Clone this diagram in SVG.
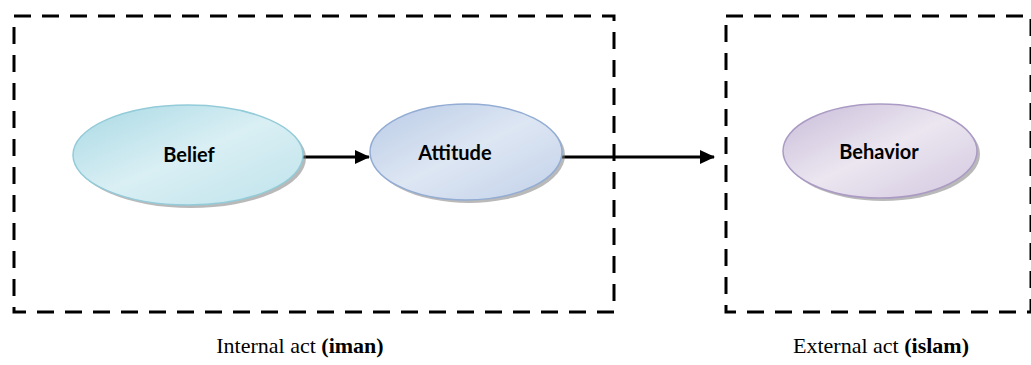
<svg xmlns="http://www.w3.org/2000/svg" width="1031" height="365" viewBox="0 0 1031 365">
<style>
.box{fill:none;stroke:#000;stroke-width:3;stroke-dasharray:17 11}
.lbl{font-family:Lato,"Open Sans","Liberation Sans",sans-serif;font-weight:bold;font-size:20px;fill:#000;text-anchor:middle}
.cap{font-family:"Liberation Serif","Times New Roman",serif;font-size:22px;fill:#000;text-anchor:middle}
.shadow{fill:#7f7f7f;opacity:0.55}
.conn{stroke:#000;stroke-width:3;fill:none}
</style>
<defs>
<linearGradient id="gB" x1="0" y1="0" x2="1" y2="1">
<stop offset="0" stop-color="#a9d9e4"/><stop offset="0.5" stop-color="#d9eff4"/><stop offset="1" stop-color="#bfe3eb"/>
</linearGradient>
<linearGradient id="gA" x1="0" y1="0" x2="1" y2="1">
<stop offset="0" stop-color="#b9cbe6"/><stop offset="0.5" stop-color="#dde6f3"/><stop offset="1" stop-color="#c2d1e9"/>
</linearGradient>
<linearGradient id="gC" x1="0" y1="0" x2="1" y2="1">
<stop offset="0" stop-color="#c9bcd9"/><stop offset="0.5" stop-color="#ebe6f0"/><stop offset="1" stop-color="#d3c8e0"/>
</linearGradient>
<marker id="ah" markerWidth="15" markerHeight="14" refX="14" refY="7" orient="auto" markerUnits="userSpaceOnUse" viewBox="0 0 15 14">
<path d="M0,0 L15,7 L0,14 z" fill="#000"/>
</marker>
</defs>
<g id="internal-box">
<rect class="box" x="14" y="16" width="600" height="296"/>
<text class="cap" x="300" y="353">Internal act <tspan font-weight="bold">(iman)</tspan></text>
</g>
<g id="external-box">
<rect class="box" x="726" y="16" width="305" height="296"/>
<text class="cap" x="881" y="353">External act <tspan font-weight="bold">(islam)</tspan></text>
</g>
<g id="connectors">
<line class="conn" x1="303" y1="157" x2="369" y2="157" marker-end="url(#ah)"/>
<line class="conn" x1="562" y1="157" x2="714" y2="157" marker-end="url(#ah)"/>
</g>
<g id="belief">
<ellipse class="shadow" cx="191" cy="158" rx="115" ry="50"/>
<ellipse cx="188" cy="155" rx="115" ry="50" fill="url(#gB)" stroke="#93cbd9" stroke-width="1.5"/>
<text class="lbl" x="189" y="162">Belief</text>
</g>
<g id="attitude">
<ellipse class="shadow" cx="469" cy="155" rx="96" ry="48"/>
<ellipse cx="466" cy="152" rx="96" ry="48" fill="url(#gA)" stroke="#92acd3" stroke-width="1.5"/>
<text class="lbl" x="455" y="160">Attitude</text>
</g>
<g id="behavior">
<ellipse class="shadow" cx="883" cy="154" rx="97" ry="47"/>
<ellipse cx="880" cy="151" rx="97" ry="47" fill="url(#gC)" stroke="#ab9bc4" stroke-width="1.5"/>
<text class="lbl" x="879" y="159">Behavior</text>
</g>
</svg>
